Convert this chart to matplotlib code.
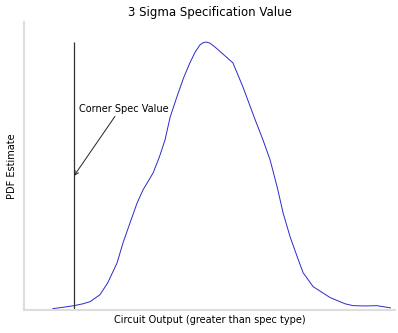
import matplotlib
matplotlib.use("Agg")
import matplotlib.pyplot as plt

# Estimated density of the circuit output (x in output units, y in relative density)
output_x = [7.8, 10.0, 13.5, 15.9, 17.8, 20.5, 22.6, 25.1, 26.7, 28.6,
            30.5, 32.1, 34.8, 36.5, 38.0, 39.4, 41.2, 43.0, 44.7, 46.1,
            47.4, 48.3, 49.1, 50.1, 51.5, 54.2, 56.3, 59.0, 62.3, 64.4,
            66.3, 68.2, 69.8, 71.7, 73.6, 75.2, 77.9, 82.5, 86.5, 88.7,
            92.0, 95.1, 98.7]
density = [0.4, 0.8, 1.5, 2.2, 3.0, 5.6, 10.1, 17.5, 25.0, 32.5,
           39.9, 44.8, 51.1, 57.1, 63.4, 72.0, 79.5, 86.6, 92.2, 96.2,
           98.9, 99.8, 100.0, 99.6, 98.1, 94.8, 92.2, 83.2, 70.9, 63.4,
           56.0, 45.9, 36.2, 27.2, 19.8, 13.8, 8.6, 4.5, 2.2, 1.5,
           1.4, 1.5, 0.7]
spec_value = 13.5

fig, ax = plt.subplots(figsize=(3.98, 3.33), dpi=100)
fig.subplots_adjust(left=0.06, right=0.993, top=0.934, bottom=0.07)

ax.plot(output_x, density, color='#2a2acc', linewidth=0.7)
peak = max(density)
ax.vlines(spec_value, 0, peak, color='#333333', linewidth=0.9)
ax.annotate('Corner Spec Value', xy=(spec_value, peak / 2),
            xytext=(spec_value + 1.4, peak * 0.74), fontsize=7,
            arrowprops=dict(arrowstyle='->', color='#222222', lw=0.7,
                            shrinkA=0, shrinkB=0, relpos=(0.42, 0.0)))

ax.set_xlim(0, 100)
ax.set_ylim(0, peak * 1.075)
ax.set_xticks([])
ax.set_yticks([])
for side in ('top', 'right'):
    ax.spines[side].set_visible(False)
for side in ('left', 'bottom'):
    ax.spines[side].set_color('#dddddd')
    ax.spines[side].set_linewidth(1.5)

ax.set_title('3 Sigma Specification Value', fontsize=8.5, pad=4)
ax.set_xlabel('Circuit Output (greater than spec type)', fontsize=7, labelpad=4)
ax.set_ylabel('PDF Estimate', fontsize=7, labelpad=5)

plt.savefig('out.png', dpi=100)
